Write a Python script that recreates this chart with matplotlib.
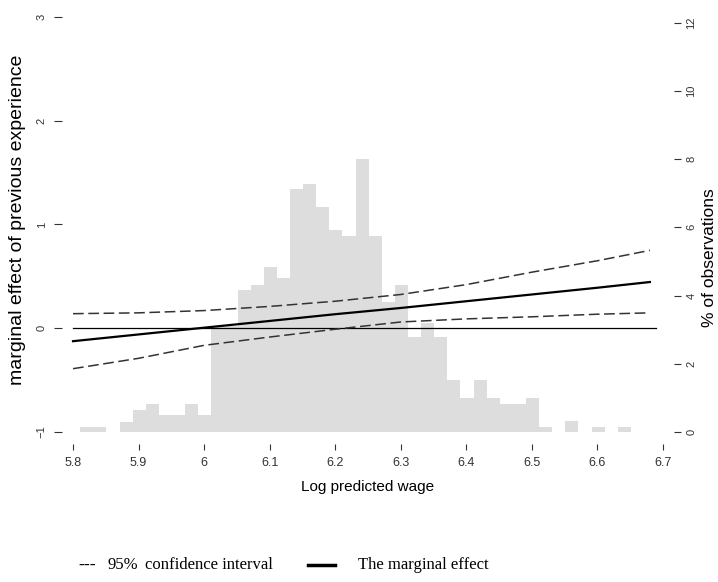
import numpy as np
import matplotlib.pyplot as plt
from matplotlib.lines import Line2D

# Histogram of log predicted wage (% of observations), bins of width 0.02
bin_start = 5.811
bin_width = 0.02
pct_obs = [0.15, 0.15, 0.0, 0.3, 0.65, 0.82, 0.5, 0.5, 0.82, 0.5,
           3.1, 3.1, 4.15, 4.32, 4.85, 4.5, 7.12, 7.26, 6.59, 5.91,
           5.74, 8.0, 5.74, 3.82, 4.32, 2.79, 3.2, 2.79, 1.53, 1.0,
           1.53, 1.0, 0.82, 0.82, 1.0, 0.15, 0.0, 0.32, 0.0, 0.15,
           0.0, 0.15]

# Marginal effect of previous experience with 95% CI
wage = [5.8, 5.9, 6.0, 6.1, 6.2, 6.3, 6.4, 6.5, 6.6, 6.68]
effect = [-0.125, -0.06, 0.005, 0.07, 0.135, 0.195, 0.26, 0.325, 0.39, 0.445]
ci_upper = [0.14, 0.148, 0.17, 0.21, 0.26, 0.325, 0.42, 0.54, 0.65, 0.75]
ci_lower = [-0.39, -0.29, -0.165, -0.085, -0.01, 0.06, 0.09, 0.11, 0.135, 0.148]
zero_line = ([5.8, 6.69], [0, 0])

x_ticks = [5.8, 5.9, 6.0, 6.1, 6.2, 6.3, 6.4, 6.5, 6.6, 6.7]
x_labels = ['5.8', '5.9', '6', '6.1', '6.2', '6.3', '6.4', '6.5', '6.6', '6.7']
left_ticks = [-1, 0, 1, 2, 3]
right_ticks = [0, 2, 4, 6, 8, 10, 12]

plt.rcParams['font.family'] = ['Liberation Sans', 'DejaVu Sans']

fig = plt.figure(figsize=(7.18, 5.82), dpi=100)
ax = fig.add_axes([62 / 718, 1 - 440 / 582, 612 / 718, 432 / 582])
ax2 = ax.twinx()

# bars on the twin axis, lines on top
edges = bin_start + bin_width * np.arange(len(pct_obs))
ax2.bar(edges, pct_obs, width=bin_width, align='edge', color='#dddddd', linewidth=0)
ax2.set_ylim(-0.235, 12.43)
ax2.set_yticks(right_ticks)
ax2.set_ylabel('% of observations', fontsize=12.5, va='center')
ax2.yaxis.set_label_coords((709 - 62) / 612, (440 - 258) / 432)

ax.set_zorder(ax2.get_zorder() + 1)
ax.patch.set_visible(False)

ax.plot(*zero_line, color='black', lw=0.9)
ax.plot(wage, effect, color='black', lw=1.6)
ax.plot(wage, ci_upper, color='#333333', lw=1.1, dashes=(7, 3))
ax.plot(wage, ci_lower, color='#333333', lw=1.1, dashes=(7, 3))

ax.set_xlim(5.7832, 6.7168)
ax.set_ylim(-1.077, 3.085)
ax.set_xticks(x_ticks)
ax.set_xticklabels(x_labels)
ax.set_yticks(left_ticks)
ax.set_xlabel('Log predicted wage', fontsize=11, labelpad=8)
ax.set_ylabel('marginal effect of previous experience', fontsize=14, va='center')
ax.yaxis.set_label_coords((18 - 62) / 612, (440 - 220) / 432)

for a in (ax, ax2):
    for s in a.spines.values():
        s.set_visible(False)
ax.spines['bottom'].set_position(('outward', 3))

ax.tick_params(axis='x', length=4, width=0.8, pad=5, labelsize=9, colors='#333333')
ax.tick_params(axis='y', length=6, width=0.8, pad=5, labelsize=8, colors='#333333',
               labelrotation=90)
ax2.tick_params(axis='y', length=5, width=0.8, pad=4, labelsize=8, colors='#333333',
                labelrotation=90)
for lab in ax.get_yticklabels() + ax2.get_yticklabels():
    lab.set_va('center')

# legend text below the plot
leg_y = 1 - 565 / 582
serif = 'Liberation Serif'
fig.text(78 / 718, leg_y, '---', family=serif, fontsize=13, va='center')
fig.text(107 / 718, leg_y, '95%', family=serif, fontsize=12, va='center')
fig.text(145 / 718, leg_y, 'confidence interval', family=serif, fontsize=12, va='center')
fig.add_artist(Line2D([308 / 718, 335 / 718], [leg_y, leg_y], color='black', lw=2.5))
fig.text(358 / 718, leg_y, 'The marginal effect', family=serif, fontsize=12, va='center')

fig.savefig('out.png', dpi=100)
